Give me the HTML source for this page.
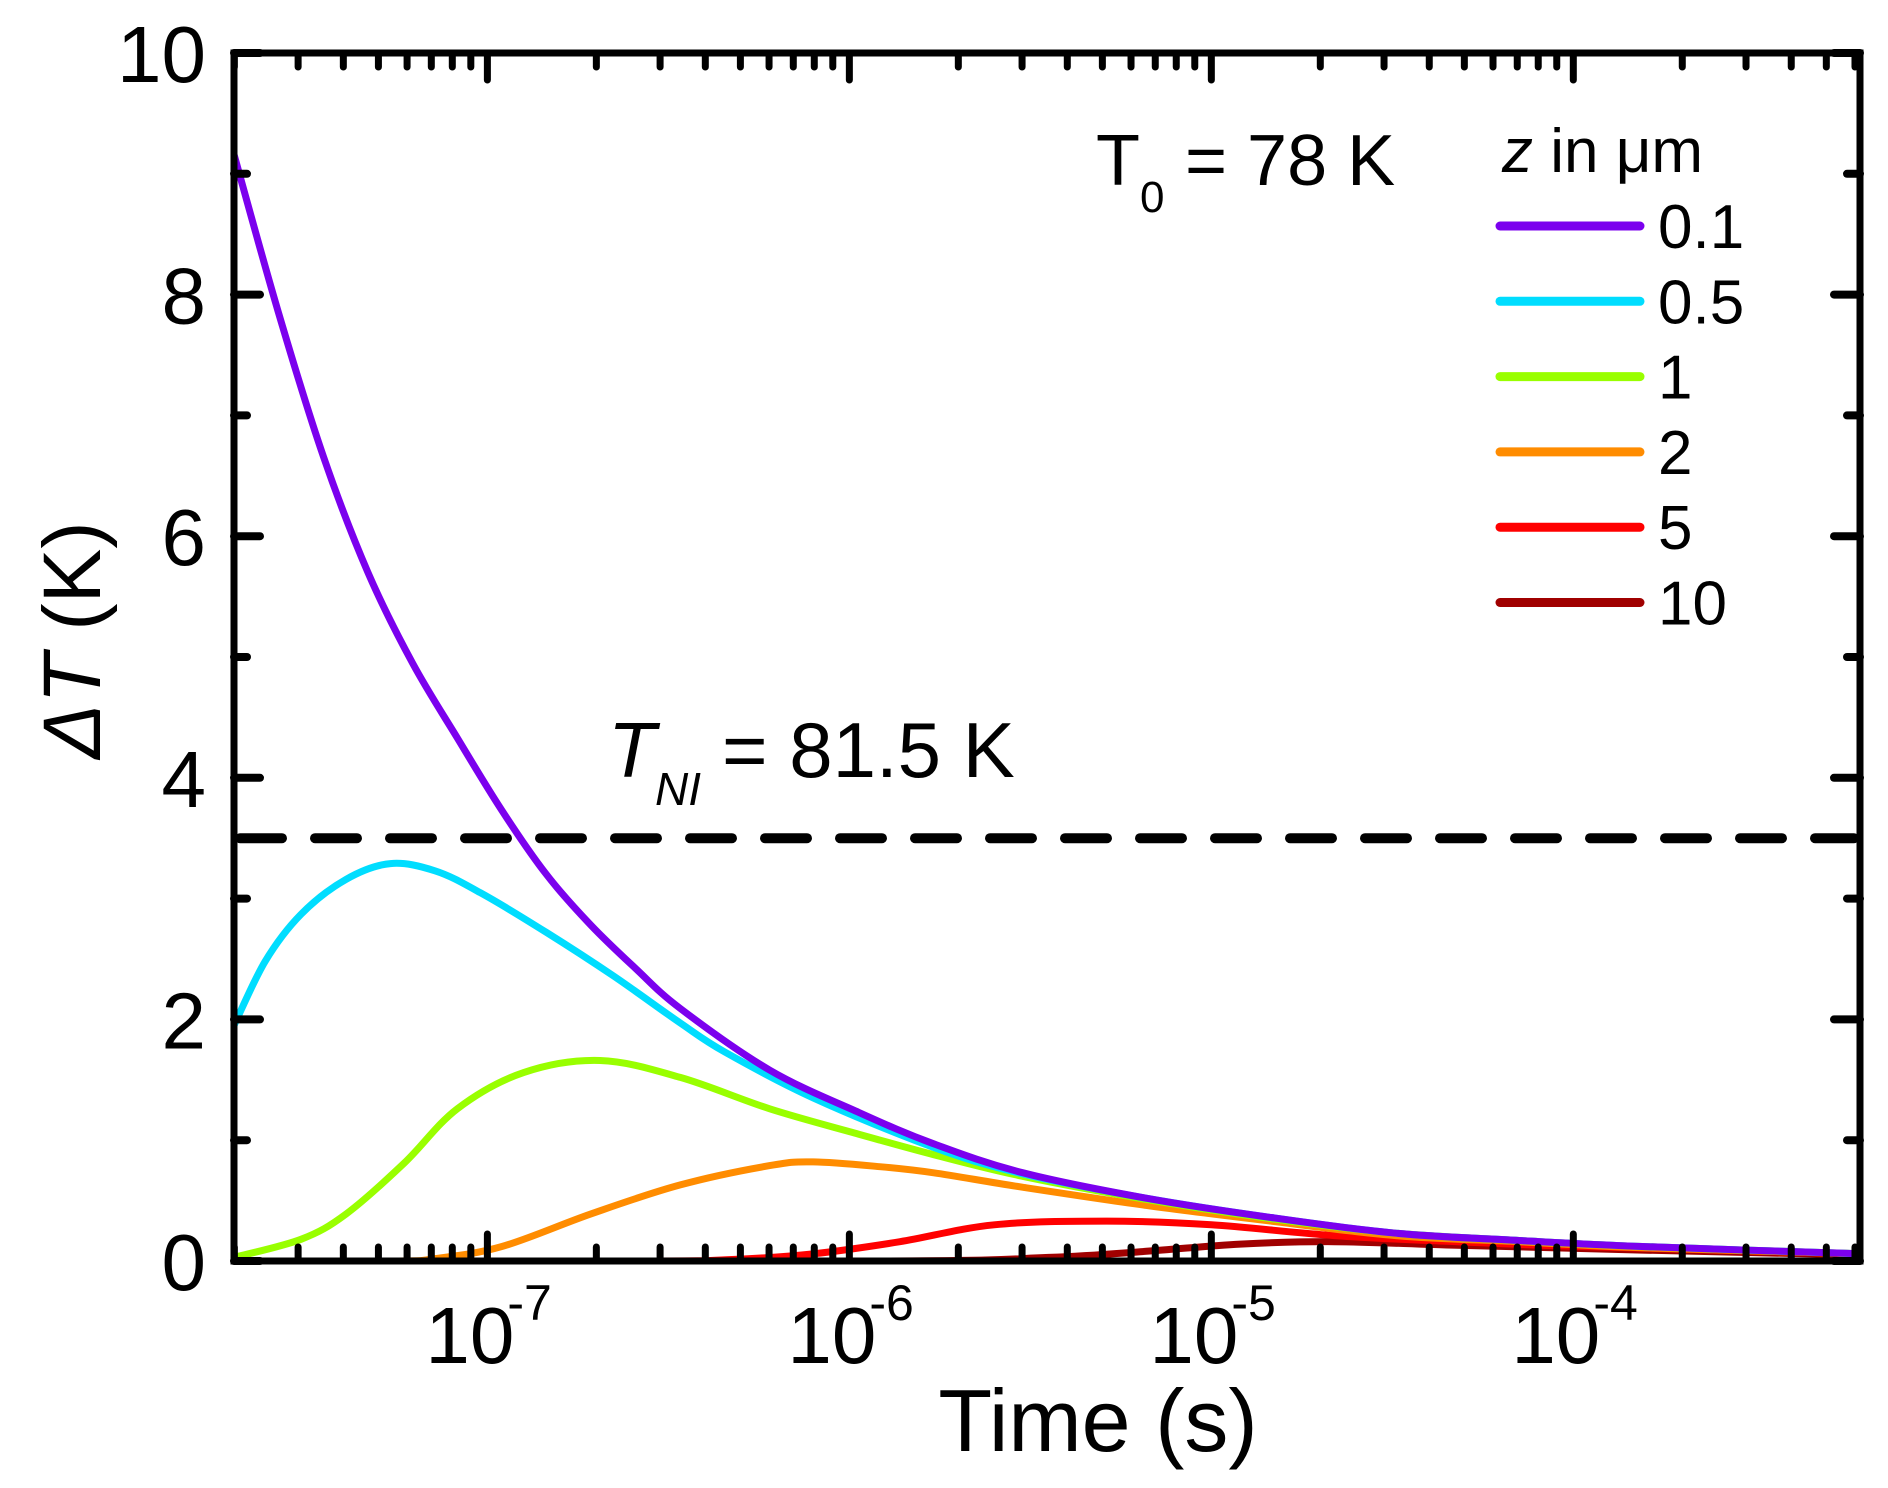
<!DOCTYPE html>
<html><head><meta charset="utf-8">
<style>
html,body{margin:0;padding:0;background:#fff;}
svg{display:block;font-family:"Liberation Sans",Arial,sans-serif;}
</style></head>
<body>
<svg id="chart" width="1888" height="1488" viewBox="0 0 1888 1488" xmlns="http://www.w3.org/2000/svg">
<g id="curves"></g>
<g id="axes"></g>
<text x="1098" y="1451" font-size="88" text-anchor="middle">Time (s)</text>
<text transform="translate(100,640) rotate(-90)" font-size="82" text-anchor="middle"><tspan font-style="italic">ΔT</tspan> (K)</text>
<g>
<text x="1096" y="185" font-size="72">T</text>
<text x="1140" y="212" font-size="44">0</text>
<text x="1185" y="185" font-size="72">= 78 K</text>
</g>
<g>
<text x="608" y="777" font-size="78" font-style="italic">T</text>
<text x="655" y="805" font-size="46" font-style="italic">NI</text>
<text x="722" y="777" font-size="78">= 81.5 K</text>
</g>
<g id="legend">
<text x="1502" y="172" font-size="62"><tspan font-style="italic">z</tspan> in μm</text>
</g>
</svg>
<script>
const xLogMin = -7.7, xLogMax = -3.208;
const yMin = 0, yMax = 10;
const yTicks = [0, 2, 4, 6, 8, 10];
const yMinorTicks = [1, 3, 5, 7, 9];
const xDecades = [-7, -6, -5, -4];
const xTickLabels = ["10", "10", "10", "10"];
const xTickExps = ["-7", "-6", "-5", "-4"];
const thresholdValue = 3.5;

const seriesNames = ["0.1", "0.5", "1", "2", "5", "10"];
const seriesColors = ["#7B00EE", "#00DDFF", "#99FF00", "#FF8C00", "#FF0000", "#A00000"];
const t01 = [-7.7,-7.577,-7.453,-7.33,-7.207,-7.083,-6.96,-6.837,-6.714,-6.59,-6.467,-6.22,-5.974,-5.767,-5.52,-5.18,-4.835,-4.49,-4.15,-3.81,-3.208];
const v01 = [9.16,7.85,6.66,5.70,4.95,4.33,3.73,3.20,2.78,2.42,2.09,1.58,1.23,0.97,0.73,0.52,0.36,0.23,0.17,0.12,0.06];
const t05 = [-7.7,-7.614,-7.515,-7.39,-7.268,-7.145,-7.02,-6.837,-6.652,-6.467,-6.344,-6.1,-5.767,-5.52,-5.18,-4.835,-4.49,-4.15,-3.81,-3.208];
const v05 = [1.95,2.48,2.87,3.16,3.29,3.23,3.05,2.72,2.36,1.97,1.73,1.35,0.94,0.72,0.52,0.36,0.23,0.17,0.12,0.06];
const t1 = [-7.7,-7.515,-7.39,-7.23,-7.083,-6.9,-6.689,-6.467,-6.22,-5.974,-5.767,-5.52,-5.18,-4.835,-4.49,-4.15,-3.81,-3.208];
const v1 = [0.03,0.18,0.39,0.81,1.26,1.56,1.66,1.52,1.26,1.05,0.88,0.70,0.51,0.35,0.23,0.17,0.12,0.06];
const t2 = [-7.7,-7.25,-7.145,-6.96,-6.714,-6.467,-6.22,-6.1,-5.912,-5.767,-5.52,-5.18,-4.835,-4.49,-4.15,-3.81,-3.208];
const v2 = [0,0,0.02,0.12,0.39,0.63,0.79,0.82,0.78,0.73,0.61,0.46,0.33,0.21,0.16,0.11,0.06];
const t5 = [-7.7,-6.6,-6.34,-6.1,-5.86,-5.6,-5.29,-5.0,-4.66,-4.32,-3.98,-3.208];
const v5 = [0,0,0.01,0.06,0.16,0.30,0.33,0.30,0.21,0.16,0.12,0.06];
const t10 = [-7.7,-5.9,-5.45,-5.18,-4.92,-4.66,-4.32,-3.81,-3.208];
const v10 = [0,0,0.03,0.08,0.14,0.16,0.13,0.09,0.05];
const seriesT = [t01, t05, t1, t2, t5, t10];
const seriesV = [v01, v05, v1, v2, v5, v10];

const L = 234, R = 1860, T = 53, B = 1261;
const NS = "http://www.w3.org/2000/svg";
function xs(lg){ return L + (lg - xLogMin) / (xLogMax - xLogMin) * (R - L); }
function ys(v){ return B - (v - yMin) / (yMax - yMin) * (B - T); }
function mk(tag, attrs, parent){ const e = document.createElementNS(NS, tag); for (const k in attrs) e.setAttribute(k, attrs[k]); parent.appendChild(e); return e; }

const curves = document.getElementById('curves');
const axes = document.getElementById('axes');
const legend = document.getElementById('legend');

const dash = mk('line', {x1: L+6, x2: R-6, y1: ys(thresholdValue), y2: ys(thresholdValue), stroke: '#000', 'stroke-width': 10, 'stroke-dasharray': '42 33', 'stroke-linecap': 'round'}, curves);



function pathFor(ts, vs){
  const p = ts.map((t,i)=>[xs(t), ys(vs[i])]);
  let d = 'M' + p[0][0].toFixed(1) + ',' + p[0][1].toFixed(1);
  for (let i=0;i<p.length-1;i++){
    const p0 = p[Math.max(0,i-1)], p1 = p[i], p2 = p[i+1], p3 = p[Math.min(p.length-1,i+2)];
    let c1y = p1[1] + (p2[1]-p0[1])/6, c2y = p2[1] - (p3[1]-p1[1])/6;
    c1y = Math.min(c1y, B); c2y = Math.min(c2y, B);
    d += ' C' + (p1[0]+(p2[0]-p0[0])/6).toFixed(1) + ',' + c1y.toFixed(1) + ' ' + (p2[0]-(p3[0]-p1[0])/6).toFixed(1) + ',' + c2y.toFixed(1) + ' ' + p2[0].toFixed(1) + ',' + p2[1].toFixed(1);
  }
  return d;
}
for (let s = seriesNames.length-1; s >= 0; s--){
  const path = mk('path', {d: pathFor(seriesT[s], seriesV[s]), fill: 'none', stroke: seriesColors[s], 'stroke-width': 7, 'stroke-linejoin': 'round'}, curves);
  
  
}

const frame = mk('rect', {x: L, y: T, width: R-L, height: B-T, fill: 'none', stroke: '#000', 'stroke-width': 7}, axes);



yTicks.forEach(v => {
  const y = ys(v);
  mk('line', {x1: L, x2: L+26, y1: y, y2: y, stroke: '#000', 'stroke-width': 8, 'stroke-linecap': 'round'}, axes);
  mk('line', {x1: R, x2: R-26, y1: y, y2: y, stroke: '#000', 'stroke-width': 8, 'stroke-linecap': 'round'}, axes);
  const lbl = mk('text', {x: 206, y: y + 29, 'font-size': 80, 'text-anchor': 'end'}, axes);
  
  
  lbl.textContent = String(v);
});
yMinorTicks.forEach(v => {
  const y = ys(v);
  mk('line', {x1: L, x2: L+13, y1: y, y2: y, stroke: '#000', 'stroke-width': 8, 'stroke-linecap': 'round'}, axes);
  mk('line', {x1: R, x2: R-13, y1: y, y2: y, stroke: '#000', 'stroke-width': 8, 'stroke-linecap': 'round'}, axes);
});

for (let d = -8; d <= -4; d++){
  for (let m = 2; m <= 9; m++){
    const lg = d + Math.log10(m);
    if (lg < xLogMin || lg > xLogMax) continue;
    const x = xs(lg);
    mk('line', {x1: x, x2: x, y1: B, y2: B-14, stroke: '#000', 'stroke-width': 7, 'stroke-linecap': 'round'}, axes);
    mk('line', {x1: x, x2: x, y1: T, y2: T+14, stroke: '#000', 'stroke-width': 7, 'stroke-linecap': 'round'}, axes);
  }
}
xDecades.forEach((lg, i) => {
  const x = xs(lg);
  mk('line', {x1: x, x2: x, y1: B, y2: B-27, stroke: '#000', 'stroke-width': 7, 'stroke-linecap': 'round'}, axes);
  mk('line', {x1: x, x2: x, y1: T, y2: T+27, stroke: '#000', 'stroke-width': 7, 'stroke-linecap': 'round'}, axes);
  const lbl = mk('text', {x: x - 62, y: 1363, 'font-size': 80}, axes);
  
  
  lbl.textContent = xTickLabels[i];
  const ex = mk('text', {x: x + 20, y: 1320, 'font-size': 50}, axes);
  
  
  ex.textContent = xTickExps[i];
});

seriesNames.forEach((n, i) => {
  const y = 226 + i * 75.3;
  const ln = mk('line', {x1: 1500, x2: 1640, y1: y, y2: y, stroke: seriesColors[i], 'stroke-width': 9, 'stroke-linecap': 'round'}, legend);
  
  
  const t = mk('text', {x: 1658, y: y + 22, 'font-size': 62}, legend);
  
  
  t.textContent = n;
});
</script>
</body></html>
